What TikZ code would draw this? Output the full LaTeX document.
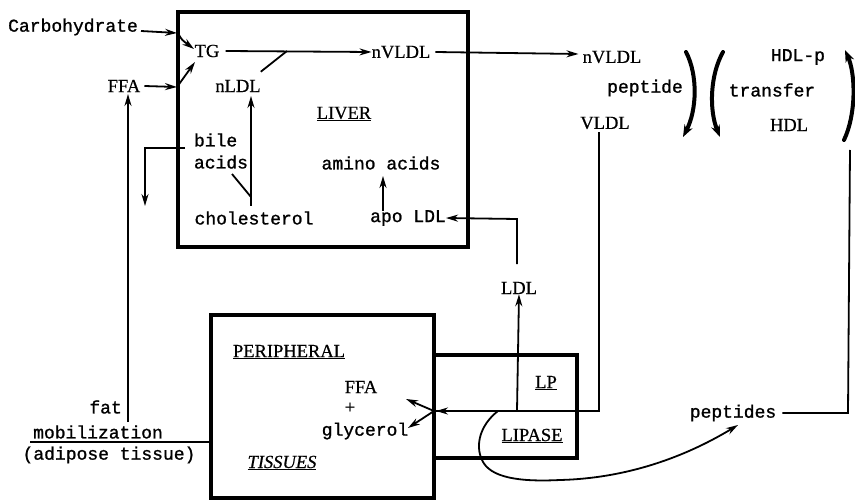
\documentclass[tikz,border=0pt]{standalone}
\usepackage{fontspec}
\setmainfont{Liberation Serif}[FakeBold=0.6]
\newfontfamily\monof{Liberation Mono}[FakeBold=1.2]
\usetikzlibrary{arrows.meta,calc}
\begin{document}
\begin{tikzpicture}[x=1pt,y=-1pt,
 mono/.style={font=\monof\fontsize{18}{22}\selectfont, inner sep=0pt},
 ser/.style={font=\fontsize{18.5}{21}\selectfont, inner sep=0pt},
 box/.style={line width=3.5pt},
 conn/.style={line width=1.8pt},
 arr/.style={conn,-{Stealth[length=12pt,width=7pt]}},
 bracket/.style={line width=4pt,line cap=round,-{Stealth[length=12pt,width=9pt]}}]
\useasboundingbox (0,0) rectangle (855,500);
% boxes
\draw[box] (178,12) rectangle (468,247);
\draw[box] (211,498) -- (211,315) -- (434,315) -- (434,498) -- cycle;
\draw[box] (434,355) rectangle (577,458);
\draw[line width=2.5pt] (434,411) -- (577,411);
% texts
\node[mono] (carb) at (73,27) {Carbohydrate};
\node[ser] (ffa1) at (124,86) {FFA};
\node[ser] (tg) at (207,51) {TG};
\node[ser] (nldl) at (238,86) {nLDL};
\node[ser] (nvldl1) at (401,52) {nVLDL};
\node[ser] (nvldl2) at (612,57) {nVLDL};
\node[mono] (peptide) at (645,88) {peptide};
\node[ser] (vldl) at (605,123) {VLDL};
\node[mono] (hdlp) at (798,57) {HDL-p};
\node[mono] (transfer) at (772,90) {transfer};
\node[ser] (hdl) at (789,125) {HDL};
\node[mono,align=left] (bile) at (221,151) {bile\\acids};
\node[ser] (liver) at (344,114) {\underline{LIVER}};
\node[mono] (amino) at (381,163) {amino acids};
\node[mono] (chol) at (254,218) {cholesterol};
\node[mono] (apo) at (408,218) {apo LDL};
\node[ser] (ldl) at (519,288) {LDL};
\node[ser] (periph) at (289,352) {\underline{PERIPHERAL}};
\node[ser] (ffa2) at (361,387) {FFA};
\node[ser] (plus) at (350,408) {+};
\node[mono] (glyc) at (365,431) {glycerol};
\node[ser] (tissues) at (282,463) {\underline{\itshape TISSUES}};
\node[ser] (lp) at (546,383) {\underline{LP}};
\node[ser] (lipase) at (532,436) {\underline{LIPASE}};
\node[mono] (peptides) at (733,413) {peptides};
\node[mono,anchor=east] (fat) at (122,407) {fat};
\node[mono] (mobil) at (98,432) {mobilization};
\node[mono] (adipose) at (109,455) {(adipose tissue)};
% coordinates
\coordinate (cin) at (177,33);
\coordinate (fin) at (177,87);
\coordinate (tgjoin) at (287,51);
\coordinate (cholup) at (251,206);
\coordinate (nldlbot) at (251,96);
\coordinate (bilebr) at (185,148);
\coordinate (bilecorner) at (145,148);
\coordinate (bileend) at (145,206);
\coordinate (ldlturn) at (517,219);
\coordinate (lpbase) at (517,411);
\coordinate (vldlturn) at (599,411);
\coordinate (pedge) at (436,411);
\coordinate (ffatip) at (406,399);
\coordinate (glytip) at (408,428);
\coordinate (pepcorner) at (848,413);
\coordinate (pepup) at (850,150);
\coordinate (fatbot) at (128,422);
\coordinate (hl) at (30,442);
\coordinate (hr) at (211,442);
% connectors
\draw[arr] ($(carb.east)+(3,4)$) -- (cin);
\draw[arr] (179,35) .. controls (182,40) .. (194,49);
\draw[arr] ($(ffa1.east)+(4,0)$) -- (fin);
\draw[arr] (fin) -- (195,62);
\draw[arr] ($(tg.east)+(6,0)$) -- (nvldl1.west);
\draw[conn] ($(nldl.north east)+(0,-8)$) -- (tgjoin);
\draw[arr] ($(nvldl1.east)+(5,0)$) -- ($(nvldl2.west)+(-4,-3)$);
\draw[arr] (cholup) -- (nldlbot);
\draw[conn] (251,197) -- (232,174);
\draw[arr] (bilebr) -- (bilecorner) -- (bileend);
\draw[arr] (383,211) -- (383,176);
\draw[arr] (517,264) -- (ldlturn) -- (apo.east);
\draw[arr] (lpbase) -- (ldl.south);
\draw[arr] ($(vldl.south)+(-6,3)$) -- (vldlturn) -- (pedge);
\draw[arr] (434,411) -- (ffatip);
\draw[arr] (434,411) -- (glytip);
\draw[bracket] (686,52) .. controls (698,75) and (697,110) .. (683,137);
\draw[bracket] (723,52) .. controls (710,75) and (709,110) .. (720,137);
\draw[conn] ($(peptides.east)+(6,0)$) -- (pepcorner) -- (pepup);
\draw[bracket] (844,140) .. controls (856,115) and (856,75) .. (845,50);
\draw[arr] (498,411) .. controls (480,425) and (475,445) .. (482,460)
  .. controls (490,478) and (520,482) .. (560,480)
  .. controls (640,478) and (700,448) .. (738,425);
\draw[arr] (fatbot) -- (128,94);
\draw[conn] (hl) -- (hr);
\end{tikzpicture}
\end{document}
